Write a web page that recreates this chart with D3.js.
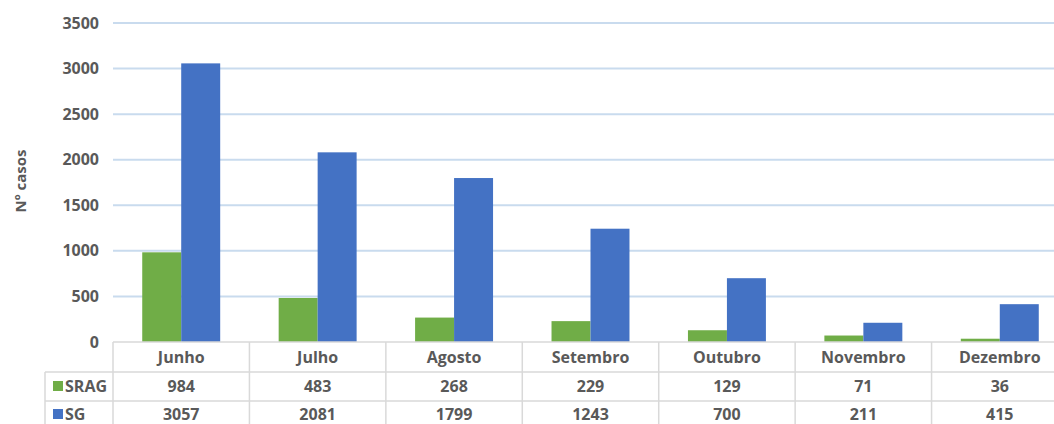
<html>
<head>
  <script src="https://d3js.org/d3.v7.min.js"></script>
  <style>
  body { margin: 0; background: #fff; }
  text { font-family: "Open Sans", sans-serif; font-weight: 700; fill: #595959; }
  </style>
</head>
<body>
<svg width="1054" height="424"></svg>

<script>
var months = ["Junho", "Julho", "Agosto", "Setembro", "Outubro", "Novembro", "Dezembro"];
var srag = [984, 483, 268, 229, 129, 71, 36];
var sg = [3057, 2081, 1799, 1243, 700, 211, 415];
var yTicks = [0, 500, 1000, 1500, 2000, 2500, 3000, 3500];
var seriesNames = ["SRAG", "SG"];
var colors = ["#70ad47", "#4472c4"];

var svg = d3.select("svg");
var plotLeft = 113, plotRight = 1068, plotTop = 23, plotBottom = 342;

var x = d3.scaleBand().domain(months).range([plotLeft, plotRight]);
var xs = d3.scaleBand().domain(seriesNames).range([0, x.bandwidth()]).paddingInner(0).paddingOuter(0.75);
var y = d3.scaleLinear().domain([0, 3500]).range([plotBottom, plotTop]);

// gridlines
svg.selectAll("line.grid").data(yTicks.slice(1)).enter().append("line")
  .attr("x1", plotLeft).attr("x2", 1054)
  .attr("y1", function(d){ return y(d); }).attr("y2", function(d){ return y(d); })
  .attr("stroke", "#c9dbee").attr("stroke-width", 2);

// y axis
var yAxis = svg.append("g").attr("transform", "translate(" + (plotLeft - 12) + ",0)")
  .call(d3.axisLeft(y).tickValues(yTicks).tickFormat(d3.format("d")).tickSize(0).tickPadding(2));
yAxis.select(".domain").remove();
yAxis.selectAll("text").attr("font-size", 16).style("font-family", "Open Sans, sans-serif").style("font-weight", 700).attr("fill", "#595959");

svg.append("text").attr("transform", "translate(26,181) rotate(-90)")
  .attr("text-anchor", "middle").attr("font-size", 15).text("Nº casos");

// bars
var data = [srag, sg];
data.forEach(function(vals, s){
  svg.selectAll("rect.s" + s).data(vals).enter().append("rect")
    .attr("class", "s" + s)
    .attr("x", function(d, i){ return x(months[i]) + xs(seriesNames[s]); })
    .attr("width", xs.bandwidth())
    .attr("y", function(d){ return y(d); })
    .attr("height", function(d){ return plotBottom - y(d); })
    .attr("fill", colors[s]);
});

// data table
var rowH = [plotBottom, 372, 401];
var border = "#d9d9d9";
var tbl = svg.append("g");
tbl.append("line").attr("x1", plotLeft).attr("x2", plotRight).attr("y1", rowH[0]).attr("y2", rowH[0]).attr("stroke", border).attr("stroke-width", 1.5);
[rowH[1], rowH[2]].forEach(function(yy){
  tbl.append("line").attr("x1", 45).attr("x2", plotRight).attr("y1", yy).attr("y2", yy).attr("stroke", border).attr("stroke-width", 1.5);
});
months.forEach(function(m){
  tbl.append("line").attr("x1", x(m)).attr("x2", x(m)).attr("y1", rowH[0]).attr("y2", 424).attr("stroke", border).attr("stroke-width", 1.5);
});
tbl.append("line").attr("x1", 45).attr("x2", 45).attr("y1", rowH[1]).attr("y2", 424).attr("stroke", border).attr("stroke-width", 1.5);

// header
tbl.selectAll("text.hdr").data(months).enter().append("text")
  .attr("x", function(d){ return x(d) + x.bandwidth() / 2; })
  .attr("y", 357).attr("dy", "0.35em")
  .attr("text-anchor", "middle").attr("font-size", 16).text(function(d){ return d; });

var rowY = [386, 414];
data.forEach(function(vals, s){
  var cy = rowY[s];
  tbl.append("rect").attr("x", 53).attr("y", cy - 5).attr("width", 10).attr("height", 10).attr("fill", colors[s]);
  tbl.append("text").attr("x", 65).attr("y", cy).attr("dy", "0.35em").attr("font-size", 16).text(seriesNames[s]);
  tbl.selectAll("text.v" + s).data(vals).enter().append("text")
    .attr("x", function(d, i){ return x(months[i]) + x.bandwidth() / 2; })
    .attr("y", cy).attr("dy", "0.35em")
    .attr("text-anchor", "middle").attr("font-size", 16).text(function(d){ return d; });
});
</script>
</body></html>
